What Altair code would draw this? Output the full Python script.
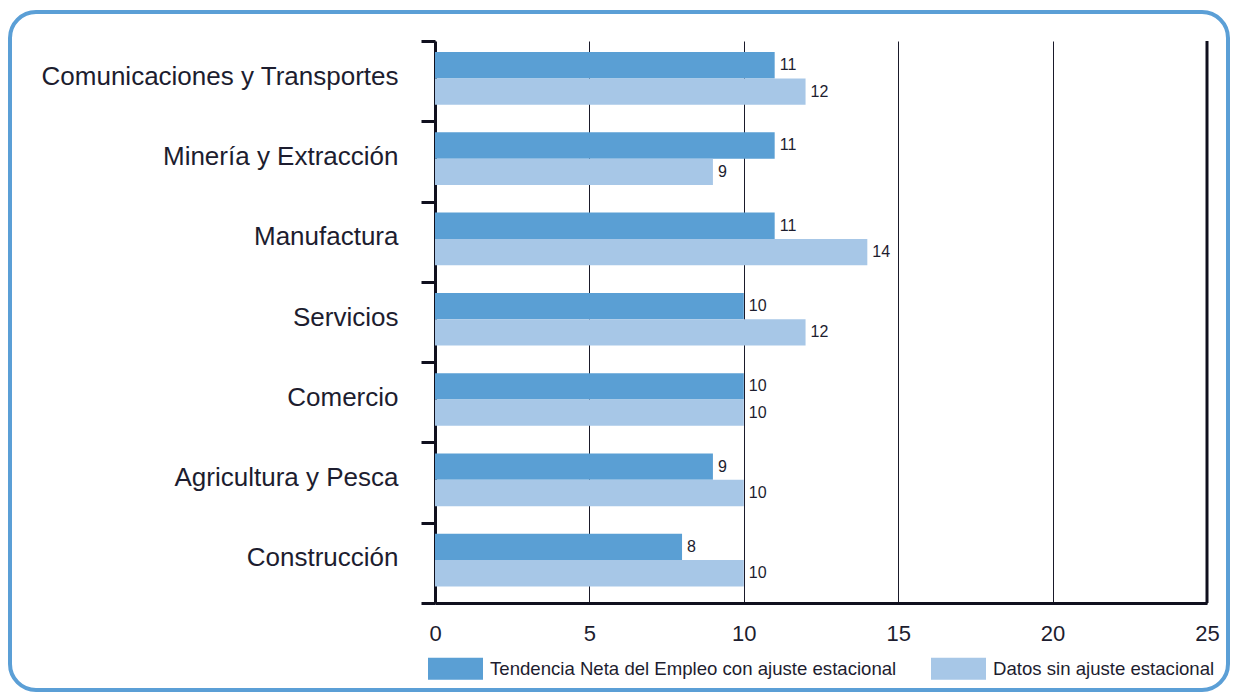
import altair as alt
import pandas as pd

categories = [
    "Comunicaciones y Transportes",
    "Minería y Extracción",
    "Manufactura",
    "Servicios",
    "Comercio",
    "Agricultura y Pesca",
    "Construcción",
]
series_names = [
    "Tendencia Neta del Empleo con ajuste estacional",
    "Datos sin ajuste estacional",
]
ajustado = [11, 11, 11, 10, 10, 9, 8]
sin_ajuste = [12, 9, 14, 12, 10, 10, 10]
x_ticks = [0, 5, 10, 15, 20, 25]
colors = ["#5a9fd4", "#a7c7e7"]

FONT = "Liberation Sans"
TXT = "#1d1d2f"
DARK = "#10101e"

rows = []
for c, a, s in zip(categories, ajustado, sin_ajuste):
    rows.append({"cat": c, "serie": series_names[0], "val": a})
    rows.append({"cat": c, "serie": series_names[1], "val": s})
df = pd.DataFrame(rows)

y_enc = alt.Y(
    "cat:N",
    sort=categories,
    scale=alt.Scale(paddingInner=0, paddingOuter=0),
    axis=alt.Axis(
        title=None, tickBand="extent", tickSize=14, tickWidth=3, tickColor=DARK,
        domainWidth=3, domainColor=DARK, labelFontSize=26, labelPadding=23,
        labelOffset=-5, labelLimit=600, labelColor=TXT, labelFont=FONT, grid=False,
    ),
)
yoff_enc = alt.YOffset(
    "serie:N", sort=series_names,
    scale=alt.Scale(domain=series_names, paddingInner=0, paddingOuter=0.524, align=0.4),
)
x_enc = alt.X(
    "val:Q",
    scale=alt.Scale(domain=[0, 25], nice=False),
    axis=alt.Axis(
        title=None, values=x_ticks, grid=True, gridColor="#1a1a2a", gridWidth=1,
        ticks=False, domainWidth=3, domainColor=DARK, labelFontSize=22,
        labelPadding=20, labelColor=TXT, labelFont=FONT, labelFlush=False,
    ),
)

bars = alt.Chart(df).mark_bar().encode(
    y=y_enc,
    yOffset=yoff_enc,
    x=x_enc,
    color=alt.Color(
        "serie:N",
        scale=alt.Scale(domain=series_names, range=colors),
        legend=alt.Legend(
            orient="none", legendX=-7, legendY=600, direction="horizontal",
            title=None, symbolType="M-1,-0.4H1V0.4H-1Z", symbolSize=3025,
            symbolStrokeWidth=0, labelFontSize=18.6, labelOffset=7,
            columnPadding=34, labelLimit=700, labelColor=TXT, labelFont=FONT,
        ),
    ),
)

text = alt.Chart(df).mark_text(
    align="left", baseline="middle", dx=5, fontSize=16, color=TXT, font=FONT
).encode(
    y=alt.Y("cat:N", sort=categories),
    yOffset=alt.YOffset("serie:N", sort=series_names),
    x="val:Q",
    text="val:Q",
)

rule = alt.Chart(alt.Data(values=[{"v": 25}])).mark_rule(
    color=DARK, strokeWidth=3
).encode(x=alt.datum(25))

frame = alt.Chart(alt.Data(values=[{"f": 1}])).mark_rect(
    fillOpacity=0, stroke="#5b9fd6", strokeWidth=4, cornerRadius=26
).encode(
    x=alt.value(-425), x2=alt.value(793), y=alt.value(-29), y2=alt.value(649)
)

chart = alt.layer(frame, bars, text, rule).properties(
    width=772,
    height=562,
    padding={"left": 427, "top": 33, "right": 23, "bottom": 89},
    autosize=alt.AutoSizeParams(type="none"),
    background="white",
).configure_view(stroke=None)

chart.save("out.html", embed_options={"renderer": "svg", "actions": False})
